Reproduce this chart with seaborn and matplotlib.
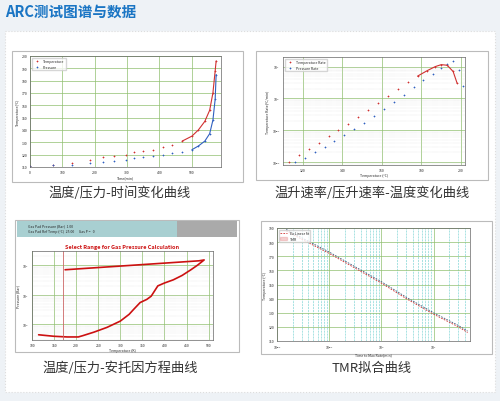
import matplotlib
matplotlib.use("Agg")
import matplotlib.pyplot as plt
import seaborn as sns
from matplotlib.patches import Rectangle

sns.set_style("white")
plt.rcParams["font.family"] = ["Noto Sans CJK SC", "DejaVu Sans"]

TITLE = "ARC测试图谱与数据"
CAPTIONS = ["温度/压力-时间变化曲线", "温升速率/压升速率-温度变化曲线",
            "温度/压力-安托因方程曲线", "TMR拟合曲线"]

# panel 1: temperature / pressure vs time
t1 = [0, 70, 130, 185, 225, 260, 295, 320, 350, 380, 410, 440, 470, 500, 520, 540, 555, 565, 572, 575]
temp1 = [111, 112, 113, 116, 118, 119, 120, 122, 123, 124, 126, 128, 131, 135, 140, 147, 156, 170, 188, 196]
press1 = [111, 111.5, 112, 113, 114, 115, 116, 117, 118, 119, 120, 121, 122, 124, 127, 131, 137, 148, 165, 185]

# panel 2: self-heat rate vs temperature
temp2 = [113, 118, 123, 128, 133, 138, 143, 148, 153, 158, 163, 168, 173, 178, 183, 187, 190, 193, 196, 198]
rate2 = [0.01, 0.016, 0.025, 0.04, 0.065, 0.1, 0.16, 0.26, 0.42, 0.7, 1.2, 2.0, 3.3, 5.0, 7.5, 10, 11.5, 11, 7, 3]
prate2 = [0.01, 0.013, 0.02, 0.03, 0.045, 0.07, 0.11, 0.17, 0.27, 0.45, 0.75, 1.3, 2.3, 3.8, 6.0, 9, 12, 15, 8, 2.5]

# panel 3: pressure vs temperature (Antoine)
temp3 = [115, 150, 180, 205, 215, 240, 270, 300, 320, 330, 345, 360, 370, 385, 400, 420, 440, 460, 475, 490, 478, 175]
pres3 = [0.45, 0.4, 0.38, 0.38, 0.42, 0.55, 0.8, 1.3, 2.2, 3.2, 5.5, 7, 9, 20, 25, 32, 45, 70, 100, 150, 140, 70]

# panel 4: TMR fit
tmr4 = [0.015, 0.03, 0.1, 0.3, 1, 3, 10, 30, 45]
temp4_red = [188, 182, 172, 162, 151, 140, 129, 120, 116]
temp4_blue = [189, 183, 173, 163, 152, 141, 130, 121, 117]

W, H = 500, 402
fig = plt.figure(figsize=(5, 4.02), dpi=100)
fig.patch.set_facecolor("#eef2f6")


def px(x0, y0, x1, y1):
    return [x0 / W, 1 - y1 / H, (x1 - x0) / W, (y1 - y0) / H]


bg = fig.add_axes([0, 0, 1, 1]); bg.axis("off"); bg.set_xlim(0, W); bg.set_ylim(H, 0)
bg.add_patch(Rectangle((5, 32), 490, 361, fc="white", ec="#dddddd", lw=0.8, ls=":"))
for fx in [(12, 52, 231, 131), (256, 52, 232, 129), (15, 221, 224, 132), (261, 222, 231, 133)]:
    bg.add_patch(Rectangle(fx[:2], fx[2], fx[3], fc="white", ec="#bbbbbb", lw=0.8))
bg.add_patch(Rectangle((17, 222), 220, 16, fc="#aaaaaa", ec="none"))
bg.add_patch(Rectangle((17, 222), 160, 16, fc="#a8cfd1", ec="none"))
bg.text(5, 12, TITLE, color="#1a75c4", fontsize=10.5, fontweight="bold", va="center")
for (cx, cy), cap in zip([(120, 193), (372, 193), (120, 368), (372, 368)], CAPTIONS):
    bg.text(cx, cy, cap, fontsize=9.5, color="#333333", ha="center", va="center")


def style(ax):
    ax.tick_params(labelsize=2.5, length=1, pad=1)
    for s in ax.spines.values():
        s.set_linewidth(0.5); s.set_color("#666666")
    ax.grid(True, which="major", color="#8fbf6f", lw=0.5)
    ax.grid(True, which="minor", color="#cccccc", lw=0.3, ls=":")


ax1 = fig.add_axes(px(30, 57, 221, 168))
sns.scatterplot(x=t1, y=temp1, ax=ax1, color="#d03030", s=2, marker="+", linewidth=0.5)
sns.scatterplot(x=t1, y=press1, ax=ax1, color="#3060c0", s=2, marker="+", linewidth=0.5)
sns.lineplot(x=t1[12:], y=temp1[12:], ax=ax1, color="#d03030", lw=0.8)
sns.lineplot(x=t1[13:], y=press1[13:], ax=ax1, color="#3060c0", lw=0.8)
ax1.set_xlim(0, 590); ax1.set_ylim(110, 200)
ax1.set_xlabel("Time(min)", fontsize=2.5, labelpad=1); ax1.set_ylabel("Temperature(°C)", fontsize=2.5, labelpad=1)
ax1.legend(["Temperature", "Pressure"], fontsize=2.5, loc="upper left", frameon=True)
style(ax1)

ax2 = fig.add_axes(px(283, 58, 465, 166))
sns.scatterplot(x=temp2, y=rate2, ax=ax2, color="#d03030", s=3, marker="+", linewidth=0.5)
sns.scatterplot(x=[t + 3 for t in temp2], y=prate2, ax=ax2, color="#3060c0", s=3, marker="+", linewidth=0.5)
sns.lineplot(x=temp2[13:], y=rate2[13:], ax=ax2, color="#d03030", lw=0.8)
ax2.set_yscale("log"); ax2.set_xlim(110, 202); ax2.set_ylim(0.008, 20)
ax2.set_xlabel("Temperature (°C)", fontsize=2.5, labelpad=1); ax2.set_ylabel("Temperature Rate(°C/min)", fontsize=2.5, labelpad=1)
ax2.legend(["Temperature Rate", "Pressure Rate"], fontsize=2.5, loc="upper left")
style(ax2)

ax3 = fig.add_axes(px(32, 252, 213, 341))
sns.lineplot(x=temp3, y=pres3, ax=ax3, color="#cc1111", lw=1.2, sort=False, estimator=None)
ax3.axvline(170, color="#cc6666", lw=0.6)
ax3.set_yscale("log"); ax3.set_xlim(100, 510); ax3.set_ylim(0.3, 300)
ax3.set_xlabel("Temperature (K)", fontsize=2.5, labelpad=1); ax3.set_ylabel("Pressure (Bar)", fontsize=2.5, labelpad=1)
ax3.set_title("Select Range for Gas Pressure Calculation", fontsize=4, color="#cc1111", fontweight="bold", pad=2)
style(ax3)
bg.text(28, 227, "Gas Pad Pressure (Bar)  1.00", fontsize=2.5)
bg.text(28, 233, "Gas Pad Ref Temp (°C)  25.00      Gas P =   0", fontsize=2.5)

ax4 = fig.add_axes(px(277, 229, 470, 342))
sns.lineplot(x=tmr4, y=temp4_red, ax=ax4, color="#d03030", lw=0.6, ls=(0, (2, 1.5)))
sns.lineplot(x=tmr4, y=temp4_blue, ax=ax4, color="#406080", lw=0.6, ls=(0, (2, 1.5)))
ax4.set_xscale("log"); ax4.set_xlim(0.01, 50); ax4.set_ylim(110, 190)
ax4.set_xlabel("Time to Max Rate(min)", fontsize=2.5, labelpad=1); ax4.set_ylabel("Temperature (°C)", fontsize=2.5, labelpad=1)
ax4.legend(["Ea Linear fit", "TMR"], fontsize=2.5, loc="upper left")
style(ax4)
ax4.grid(True, which="minor", axis="x", color="#66cccc", lw=0.4, ls="--")

fig.savefig("out.png", dpi=100, facecolor=fig.get_facecolor())
